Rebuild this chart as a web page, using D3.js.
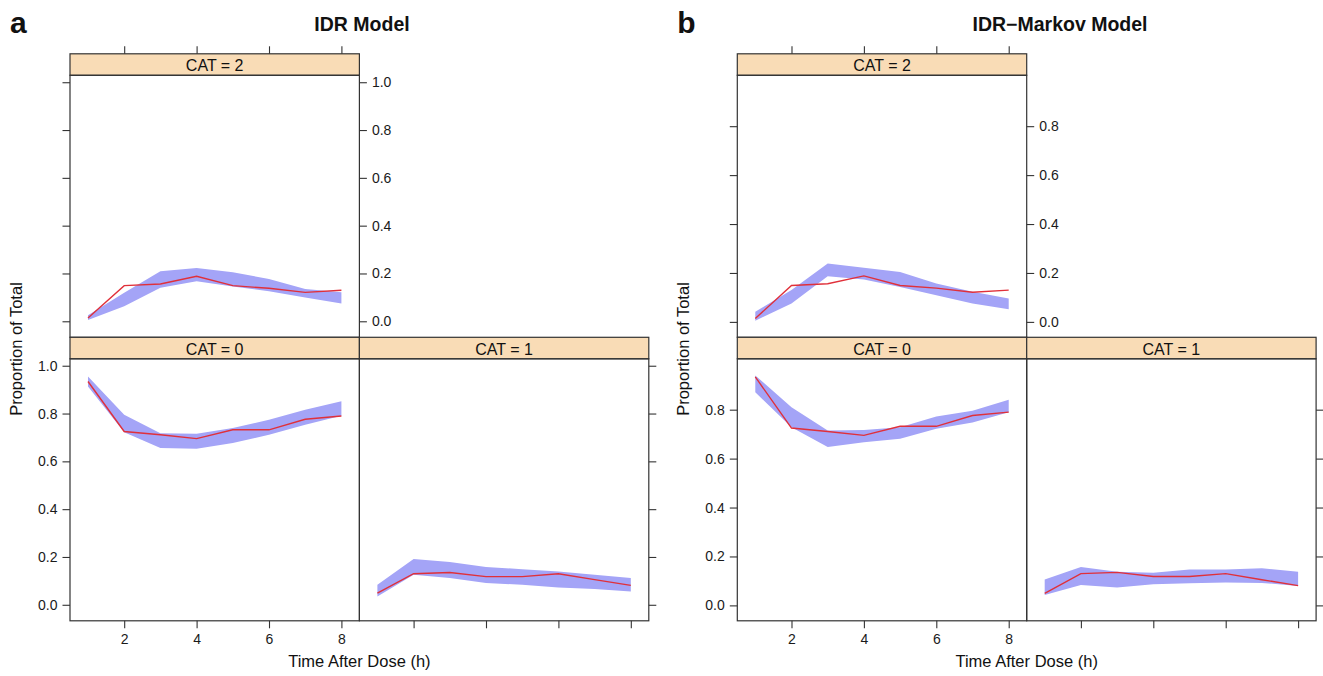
<!DOCTYPE html>
<html>
<head>
<meta charset="utf-8">
<script src="https://cdn.jsdelivr.net/npm/d3@7"></script>
<style>
  html, body { margin: 0; padding: 0; background: #fff; }
  svg { display: block; font-family: "Liberation Sans", Arial, Helvetica, sans-serif; }
  .tick text { fill: #1a1a1a; }
</style>
</head>
<body>
<svg id="chart" width="1323" height="676"></svg>
<script>
// Time points (h)
const time = [1, 2, 3, 4, 5, 6, 7, 8];

// Observed proportions per category (same observed data in both models)
const obsCat0 = [0.934, 0.725, 0.711, 0.695, 0.732, 0.732, 0.776, 0.790];
const obsCat1 = [0.049, 0.130, 0.135, 0.118, 0.118, 0.130, 0.105, 0.081];
const obsCat2 = [0.014, 0.149, 0.156, 0.188, 0.149, 0.138, 0.121, 0.130];

// IDR model: simulated prediction intervals (lower / upper)
const idrCat0Lo = [0.913, 0.722, 0.656, 0.653, 0.677, 0.711, 0.753, 0.791];
const idrCat0Hi = [0.955, 0.795, 0.718, 0.715, 0.739, 0.774, 0.816, 0.851];
const idrCat1Lo = [0.035, 0.126, 0.112, 0.091, 0.084, 0.072, 0.066, 0.056];
const idrCat1Hi = [0.084, 0.191, 0.179, 0.158, 0.149, 0.139, 0.126, 0.112];
const idrCat2Lo = [0.005, 0.063, 0.140, 0.167, 0.146, 0.126, 0.100, 0.074];
const idrCat2Hi = [0.025, 0.119, 0.209, 0.223, 0.205, 0.177, 0.135, 0.121];

// IDR-Markov model: simulated prediction intervals (lower / upper)
const mkvCat0Lo = [0.871, 0.728, 0.647, 0.667, 0.681, 0.722, 0.748, 0.789];
const mkvCat0Hi = [0.940, 0.810, 0.715, 0.717, 0.728, 0.772, 0.796, 0.841];
const mkvCat1Lo = [0.042, 0.083, 0.073, 0.086, 0.090, 0.094, 0.092, 0.079];
const mkvCat1Hi = [0.106, 0.157, 0.137, 0.133, 0.147, 0.147, 0.152, 0.137];
const mkvCat2Lo = [0.005, 0.075, 0.187, 0.173, 0.143, 0.109, 0.075, 0.052];
const mkvCat2Hi = [0.041, 0.130, 0.239, 0.221, 0.204, 0.157, 0.123, 0.096];

// Tick values
const xTicks = [2, 4, 6, 8];
const yTicksIdr = [0.0, 0.2, 0.4, 0.6, 0.8, 1.0];
const yTicksMkv = [0.0, 0.2, 0.4, 0.6, 0.8];

const figures = [
  {
    letter: "a", title: "IDR Model", titleX: 362, left: 70,
    yDomain: [-0.067, 1.029], yTicks: yTicksIdr,
    cat0: [obsCat0, idrCat0Lo, idrCat0Hi],
    cat1: [obsCat1, idrCat1Lo, idrCat1Hi],
    cat2: [obsCat2, idrCat2Lo, idrCat2Hi]
  },
  {
    letter: "b", title: "IDR\u2212Markov Model", titleX: 1060, left: 737.3,
    yDomain: [-0.063, 1.008], yTicks: yTicksMkv,
    cat0: [obsCat0, mkvCat0Lo, mkvCat0Hi],
    cat1: [obsCat1, mkvCat1Lo, mkvCat1Hi],
    cat2: [obsCat2, mkvCat2Lo, mkvCat2Hi]
  }
];

const svg = d3.select("#chart");
const panelW = 289.4;
const stripH = 21.5;
const plotH = 262;
const top0 = 53.8;
const tickLen = 7.5;
const frameCol = "#333";
const stripFill = "#f9dcb6";
const bandFill = "#a4a4f7";
const lineCol = "#e0303a";

const xScale = d3.scaleLinear().domain([0.503, 8.497]).range([0, panelW]);

function styleAxis(sel, fontSize) {
  sel.select(".domain").remove();
  sel.selectAll(".tick line").attr("stroke", frameCol).attr("stroke-width", 1.1);
  sel.selectAll(".tick text").attr("font-size", fontSize);
}

function drawPanel(g, x0, y0, label, series, yScale, axes, yTicks) {
  const p = g.append("g").attr("transform", `translate(${x0},${y0})`);
  const [obs, lo, hi] = series;
  const pts = time.map((t, i) => ({ t, obs: obs[i], lo: lo[i], hi: hi[i] }));

  // strip
  p.append("rect").attr("x", 0).attr("y", 0).attr("width", panelW).attr("height", stripH)
    .attr("fill", stripFill).attr("stroke", frameCol).attr("stroke-width", 1.2);
  p.append("text").attr("x", panelW / 2).attr("y", stripH / 2 + 1)
    .attr("text-anchor", "middle").attr("dominant-baseline", "central")
    .attr("font-size", 16).attr("fill", "#111").text(label);

  const plot = p.append("g").attr("transform", `translate(0,${stripH})`);

  // prediction band
  plot.append("path").datum(pts)
    .attr("d", d3.area().x(d => xScale(d.t)).y0(d => yScale(d.lo)).y1(d => yScale(d.hi)))
    .attr("fill", bandFill).attr("stroke", "none");

  // observed proportion
  plot.append("path").datum(pts)
    .attr("d", d3.line().x(d => xScale(d.t)).y(d => yScale(d.obs)))
    .attr("fill", "none").attr("stroke", lineCol).attr("stroke-width", 1.4);

  plot.append("rect").attr("x", 0).attr("y", 0).attr("width", panelW).attr("height", plotH)
    .attr("fill", "none").attr("stroke", frameCol).attr("stroke-width", 1.2);

  const fmt = d3.format(".1f");
  if (axes.left) {
    const a = plot.append("g").call(d3.axisLeft(yScale).tickValues(yTicks).tickSize(tickLen).tickPadding(5)
      .tickFormat(axes.left === "labels" ? fmt : ""));
    styleAxis(a, 14);
  }
  if (axes.right) {
    const a = plot.append("g").attr("transform", `translate(${panelW},0)`)
      .call(d3.axisRight(yScale).tickValues(yTicks).tickSize(tickLen).tickPadding(5)
      .tickFormat(axes.right === "labels" ? fmt : ""));
    styleAxis(a, 14);
  }
  if (axes.bottom) {
    const a = plot.append("g").attr("transform", `translate(0,${plotH})`)
      .call(d3.axisBottom(xScale).tickValues(xTicks).tickSize(tickLen).tickPadding(6)
      .tickFormat(axes.bottom === "labels" ? d3.format("d") : ""));
    styleAxis(a, 14);
  }
  if (axes.top) {
    const a = p.append("g")
      .call(d3.axisTop(xScale).tickValues(xTicks).tickSize(tickLen).tickFormat(""));
    styleAxis(a, 14);
  }
}

figures.forEach(f => {
  const g = svg.append("g");
  const yScale = d3.scaleLinear().domain(f.yDomain).range([plotH, 0]);

  g.append("text").attr("x", f.left - 60).attr("y", 33)
    .attr("font-size", 30).attr("font-weight", "bold").attr("fill", "#111").text(f.letter);
  g.append("text").attr("x", f.titleX).attr("y", 30.5).attr("text-anchor", "middle")
    .attr("font-size", 19.5).attr("font-weight", "bold").attr("fill", "#111").text(f.title);

  const rowTop = top0;
  const rowBot = top0 + stripH + plotH;

  drawPanel(g, f.left, rowTop, "CAT = 2", f.cat2, yScale,
    { left: "ticks", right: "labels", top: true }, f.yTicks);
  drawPanel(g, f.left, rowBot, "CAT = 0", f.cat0, yScale,
    { left: "labels", bottom: "labels" }, f.yTicks);
  drawPanel(g, f.left + panelW, rowBot, "CAT = 1", f.cat1, yScale,
    { right: "ticks", bottom: "ticks" }, f.yTicks);

  // axis titles
  g.append("text")
    .attr("transform", `translate(${f.left - 54.5},349) rotate(-90)`)
    .attr("text-anchor", "middle").attr("dominant-baseline", "central")
    .attr("font-size", 16.5).attr("fill", "#111").text("Proportion of Total");
  g.append("text").attr("x", f.left + panelW).attr("y", 667)
    .attr("text-anchor", "middle").attr("font-size", 16.5).attr("fill", "#111")
    .text("Time After Dose (h)");
});
</script>
</body>
</html>
